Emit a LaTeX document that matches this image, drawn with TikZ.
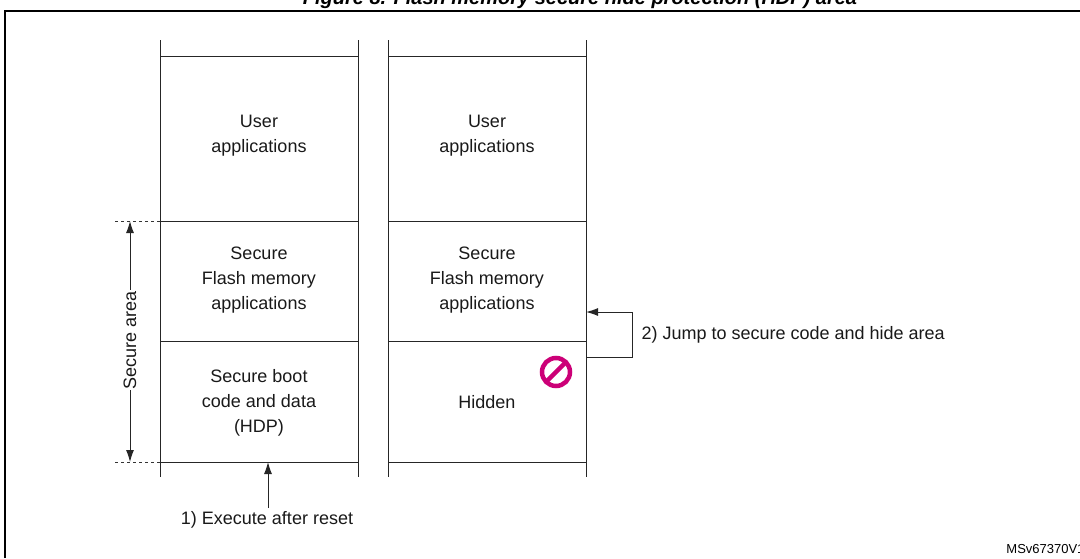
\documentclass[tikz,border=0pt]{standalone}
\usepackage{fontspec}
\setmainfont{Liberation Sans}
\usetikzlibrary{arrows.meta,calc}
\begin{document}
\begin{tikzpicture}[x=1pt,y=-1pt,
  line/.style={draw=black!85,line width=1pt},
  txt/.style={font=\fontsize{18}{25}\selectfont,align=center,text=black!90},
  arr/.style={line,-{Latex[length=12pt,width=8pt]}},
  dashln/.style={draw=black!80,line width=0.8pt,dashed}]
\useasboundingbox (0,0) rectangle (1080,558);
\begin{scope}
\clip (0,0) rectangle (1080,558);
\node[font=\bfseries\itshape\fontsize{20}{24}\selectfont] (title) at (580,-1) {Figure 8. Flash memory secure hide protection (HDP) area};
\draw[line width=1.5pt] (5,558) -- (5,11) -- (1085,11);
\node[font=\fontsize{13}{15}\selectfont,anchor=east] (ms) at (1088,549) {MSv67370V1};
\end{scope}
% columns
\foreach \xa/\xb/\n in {160/358/a,388/586/b}{
  \draw[line] (\xa,40) -- (\xa,477);
  \draw[line] (\xb,40) -- (\xb,477);
  \foreach \yy in {56,221,341,462}{\draw[line] (\xa,\yy) -- (\xb,\yy);}
}
\node[txt] (ua) at (259,136) {User\\applications};
\node[txt] (ub) at (487,136) {User\\applications};
\node[txt] (sa) at (259,280) {Secure\\Flash memory\\applications};
\node[txt] (sb) at (487,280) {Secure\\Flash memory\\applications};
\node[txt] (ha) at (259,403) {Secure boot\\code and data\\(HDP)};
\node[txt] (hb) at (487,402) {Hidden};
% secure area
\draw[dashln] (115,221) -- (160,221);
\draw[dashln] (115,462) -- (160,462);
\coordinate (st) at (130,221);
\coordinate (sbt) at (130,462);
\node[txt,rotate=90,fill=white,inner sep=1pt] (sarea) at (130,340) {Secure area};
\draw[arr] (sarea.east) -- (st);
\draw[arr] (sarea.west) -- (sbt);
% execute
\node[txt,anchor=north] (ex) at (267,508) {1) Execute after reset};
\coordinate (exa) at (268,462);
\draw[arr] (ex.north -| exa) -- (exa);
% jump
\coordinate (j1) at (586,357);
\coordinate (j2) at (586,312);
\draw[arr] (j1) -- (632,357) -- (632,312) -- (j2);
\node[txt,anchor=west] (jl) at (638,335) {2) Jump to secure code and hide area};
% prohibit
\coordinate (pc) at (556,372);
\draw[draw={rgb,255:red,204;green,0;blue,119},line width=4.5pt] (pc) circle (14);
\draw[draw={rgb,255:red,204;green,0;blue,119},line width=4.5pt] ($(pc)+(-10,10)$) -- ($(pc)+(10,-10)$);
\end{tikzpicture}
\end{document}
